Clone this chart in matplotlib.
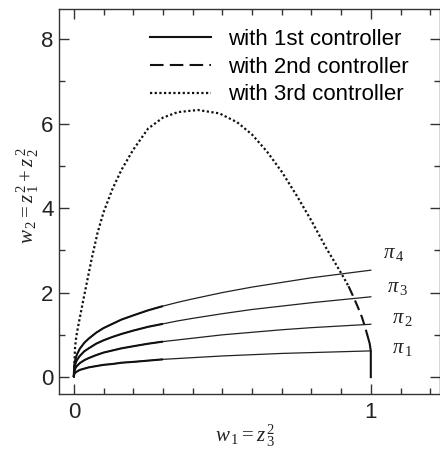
import matplotlib
matplotlib.use("Agg")
import matplotlib.pyplot as plt
import numpy as np
from matplotlib.ticker import MultipleLocator

plt.rcParams['font.family'] = ['Liberation Sans', 'DejaVu Sans']
plt.rcParams['mathtext.fontset'] = 'custom'
plt.rcParams['mathtext.rm'] = 'Liberation Serif'
plt.rcParams['mathtext.it'] = 'Liberation Serif:italic'

# level curves pi_1..pi_4 (w1 -> w2)
w1_pi = [0, 0.001, 0.003, 0.006, 0.01, 0.02, 0.035, 0.05, 0.075, 0.1, 0.13, 0.16,
         0.2, 0.25, 0.3, 0.35, 0.4, 0.5, 0.6, 0.7, 0.8, 0.9, 1.0]
pi4 = [0, 0.24, 0.35, 0.44, 0.53, 0.67, 0.81, 0.91, 1.05, 1.16, 1.26, 1.36,
       1.46, 1.58, 1.68, 1.77, 1.85, 2.00, 2.13, 2.24, 2.35, 2.44, 2.53]
pi3 = [0, 0.18, 0.26, 0.33, 0.40, 0.50, 0.61, 0.68, 0.79, 0.87, 0.95, 1.02,
       1.10, 1.19, 1.26, 1.33, 1.39, 1.50, 1.60, 1.68, 1.76, 1.83, 1.90]
pi2 = [0, 0.12, 0.17, 0.22, 0.26, 0.33, 0.40, 0.45, 0.52, 0.58, 0.63, 0.68,
       0.73, 0.79, 0.84, 0.88, 0.92, 1.00, 1.06, 1.12, 1.17, 1.21, 1.25]
pi1 = [0, 0.06, 0.09, 0.11, 0.13, 0.17, 0.20, 0.23, 0.26, 0.29, 0.31, 0.34,
       0.36, 0.39, 0.42, 0.44, 0.46, 0.50, 0.53, 0.56, 0.58, 0.60, 0.62]
pi_names = ['1', '2', '3', '4']
pi_label_x = [1.07, 1.07, 1.055, 1.04]
pi_label_y = [0.67, 1.38, 2.13, 2.92]

# trajectory under the 3rd controller
w1_c3 = [0, 0.002, 0.004, 0.008, 0.015, 0.03, 0.045, 0.06, 0.08, 0.1, 0.13, 0.16,
         0.2, 0.25, 0.3, 0.35, 0.418, 0.49, 0.55, 0.6, 0.65, 0.7, 0.75, 0.8,
         0.85, 0.88, 0.905, 0.925]
w2_c3 = [0, 0.35, 0.7, 0.95, 1.22, 1.76, 2.28, 2.8, 3.42, 3.9, 4.45, 4.9,
         5.38, 5.88, 6.14, 6.27, 6.32, 6.24, 6.03, 5.74, 5.34, 4.86, 4.3, 3.7,
         3.05, 2.7, 2.4, 2.15]

# trajectory under the 2nd controller
w1_c2 = [0.925, 0.94, 0.955, 0.97, 0.98, 0.988]
w2_c2 = [2.15, 1.92, 1.68, 1.42, 1.2, 1.0]

# final part under the 1st controller
w1_c1 = [0.988, 0.996, 1.0, 1.0]
w2_c1 = [1.0, 0.8, 0.62, 0.0]

dot_style = (0, (1, 1.1))
dash_style = (0, (5, 2.5))
ink = '#111111'

fig = plt.figure(figsize=(4.4, 4.5), dpi=100)
ax = fig.add_axes([59 / 440, 1 - 394 / 450, 381 / 440, 385 / 450])

x = np.array(w1_pi)
near = x <= 0.3
for vals in (pi1, pi2, pi3, pi4):
    y = np.array(vals)
    ax.plot(x, y, color='#222222', lw=0.9)
    ax.plot(x[near], y[near], color=ink, lw=1.5, solid_capstyle='butt')

ax.plot(w1_c3, w2_c3, color=ink, lw=1.6, linestyle=dot_style)
ax.plot(w1_c2, w2_c2, color=ink, lw=1.5, linestyle=dash_style)
ax.plot(w1_c1, w2_c1, color=ink, lw=1.5)

# legend
h1, = ax.plot([], [], color=ink, lw=1.5)
h2, = ax.plot([], [], color=ink, lw=1.5, linestyle=(0, (6.5, 3)))
h3, = ax.plot([], [], color=ink, lw=1.6, linestyle=dot_style)
ax.legend([h1, h2, h3], ['with 1st controller', 'with 2nd controller', 'with 3rd controller'],
          loc='upper left', bbox_to_anchor=((150 - 59) / 381, (394 - 29) / 385),
          frameon=False, fontsize=16, handlelength=2.75, handletextpad=0.75,
          labelspacing=0.3, borderpad=0, borderaxespad=0)

for name, xp, yp in zip(pi_names, pi_label_x, pi_label_y):
    ax.text(xp, yp, r'$\pi_{\,%s}$' % name, fontsize=15, va='center', ha='left',
            color='#222222')

ax.set_xlim(-0.05, 1.233)
ax.set_ylim(-0.4, 8.71)
ax.xaxis.set_major_locator(MultipleLocator(1))
ax.xaxis.set_minor_locator(MultipleLocator(0.1))
ax.yaxis.set_major_locator(MultipleLocator(2))
ax.yaxis.set_minor_locator(MultipleLocator(1))
ax.tick_params(which='both', direction='in', top=True, right=True, labelsize=16,
               color='#333333', labelcolor='#222222')
ax.tick_params(which='major', length=7, width=1.0)
ax.tick_params(which='minor', length=4, width=1.0)
ax.tick_params(axis='x', pad=6)
ax.tick_params(axis='y', pad=4)
for s in ax.spines.values():
    s.set_color('#333333')
    s.set_linewidth(1.0)

fig.text(245 / 440, 1 - 436 / 450, r'$w_{\,1} = z_{\,3}^{\,2}$', fontsize=15,
         ha='center', va='center', color='#222222')
fig.text(28 / 440, 1 - 196 / 450, r'$w_{\,2} = z_{\,1}^{\,2} + z_{\,2}^{\,2}$', fontsize=15,
         ha='center', va='center', rotation=90, color='#222222')

fig.savefig('out.png', dpi=100)
